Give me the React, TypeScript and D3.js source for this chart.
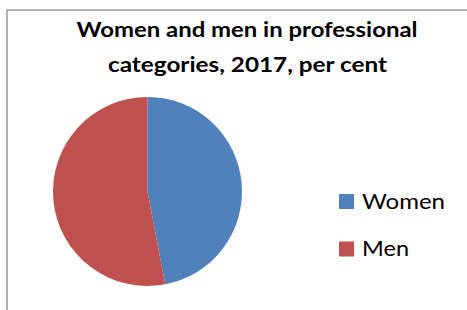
import React from 'react';
import * as d3 from 'd3';

const categories = ['Women', 'Men'];
const values = [47, 53];
const colors = ['#4F81BD', '#C0504D'];
const titleLines = ['Women and men in professional', 'categories, 2017, per cent'];

const W = 467;
const H = 310;

export default function App() {
  const pie = d3.pie<number>().sort(null).startAngle(0).endAngle(2 * Math.PI);
  const arcs = pie(values);
  const arc = d3.arc<d3.PieArcDatum<number>>().innerRadius(0).outerRadius(94.5);

  // legend rows placed with a band scale
  const legendY = d3.scaleBand().domain(categories).range([177.75, 272.75]);

  return (
    <svg
      width={W}
      height={H}
      style={{ position: 'absolute', left: 0, top: 0, background: '#fff' }}
      fontFamily="Lato, 'Open Sans', sans-serif"
    >
      {/* chart frame */}
      <rect x={7} y={10} width={500} height={330} fill="#fff" stroke="#8c8c8c" strokeWidth={1.3} />

      {/* title */}
      <text x={247} y={37} textAnchor="middle" fontWeight="bold" fontSize={21.5}
        textLength={341} lengthAdjust="spacingAndGlyphs" fill="#000">
        {titleLines[0]}
      </text>
      <text x={247.5} y={72} textAnchor="middle" fontWeight="bold" fontSize={21.5}
        textLength={279} lengthAdjust="spacingAndGlyphs" fill="#000">
        {titleLines[1]}
      </text>

      {/* pie */}
      <g transform="translate(147.5,191.5)">
        {arcs.map((a, i) => (
          <path key={categories[i]} d={arc(a) || ''} fill={colors[i]} />
        ))}
      </g>

      {/* legend */}
      {categories.map((c, i) => {
        const y = (legendY(c) || 0) + legendY.bandwidth() / 2;
        return (
          <g key={c}>
            <rect x={339} y={y - 7.5} width={15} height={15} fill={colors[i]} />
            <text x={362} y={y + 7} fontSize={20.5} fill="#000"
              textLength={c === 'Women' ? 83 : 47} lengthAdjust="spacingAndGlyphs">
              {c}
            </text>
          </g>
        );
      })}
    </svg>
  );
}
